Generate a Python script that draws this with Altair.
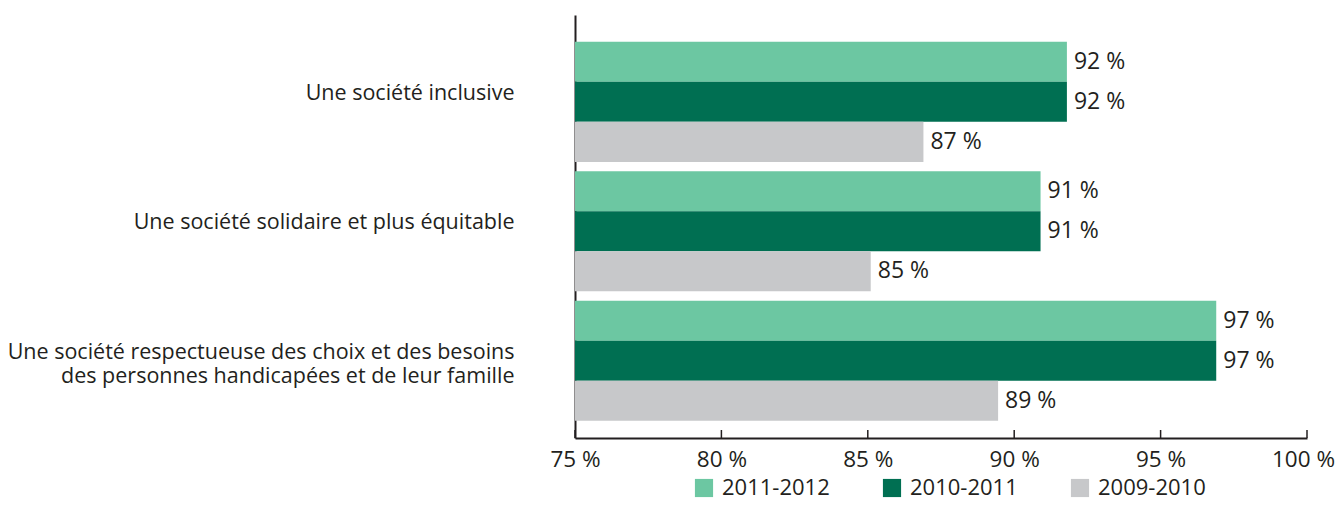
import altair as alt
import pandas as pd

categories = [
    "Une société inclusive",
    "Une société solidaire et plus équitable",
    "Une société respectueuse des choix et des besoins|des personnes handicapées et de leur famille",
]
series = ["2011-2012", "2010-2011", "2009-2010"]
v_2011_2012 = [91.8, 90.9, 96.9]
v_2010_2011 = [91.8, 90.9, 96.9]
v_2009_2010 = [86.9, 85.1, 89.45]
lab_2011_2012 = ["92 %", "91 %", "97 %"]
lab_2010_2011 = ["92 %", "91 %", "97 %"]
lab_2009_2010 = ["87 %", "85 %", "89 %"]
x_ticks = [75, 80, 85, 90, 95, 100]
colors = ["#6cc7a2", "#006f52", "#c7c8ca"]

rows = []
for s, vals, labs in zip(
    series,
    [v_2011_2012, v_2010_2011, v_2009_2010],
    [lab_2011_2012, lab_2010_2011, lab_2009_2010],
):
    for c, v, l in zip(categories, vals, labs):
        rows.append({"cat": c, "series": s, "value": v, "lab": l})
df = pd.DataFrame(rows)
ticks_df = pd.DataFrame({"tick": x_ticks})

FONT = "Open Sans"
TXT = "#231f20"
W, H = 732, 423

y_enc = alt.Y(
    "cat:N",
    sort=categories,
    scale=alt.Scale(paddingInner=0.073, paddingOuter=0.17, align=0.61),
    axis=alt.Axis(
        title=None,
        ticks=False,
        labelExpr="split(datum.label, '|')",
        labelPadding=61,
        labelOffset=-8,
        labelFontSize=21.5,
        labelLineHeight=24,
        labelLimit=700,
        labelFont=FONT,
        labelColor=TXT,
        domainColor=TXT,
        domainWidth=2,
    ),
)
yoff = alt.YOffset("series:N", sort=series, scale=alt.Scale(paddingInner=0, paddingOuter=0))
x_scale = alt.Scale(domain=[75, 100], nice=False, zero=False)

bars = alt.Chart(df).mark_bar().encode(
    y=y_enc,
    yOffset=yoff,
    x=alt.X(
        "value:Q",
        scale=x_scale,
        axis=alt.Axis(
            values=x_ticks,
            labelExpr="datum.value + ' %'",
            labelFlush=False,
            labelOffset=alt.ExprRef("datum.value == 100 ? -4 : 0"),
            ticks=False,
            grid=False,
            title=None,
            labelFontSize=22.5,
            labelPadding=10,
            labelFont=FONT,
            labelColor=TXT,
            domainColor=TXT,
            domainWidth=2,
        ),
    ),
    x2=alt.datum(75),
    color=alt.Color(
        "series:N",
        sort=series,
        scale=alt.Scale(domain=series, range=colors),
        legend=alt.Legend(
            title=None,
            orient="none",
            direction="horizontal",
            legendX=118,
            legendY=462,
            symbolType="square",
            symbolSize=330,
            symbolStrokeWidth=0,
            labelFontSize=22,
            labelFont=FONT,
            labelColor=TXT,
            labelOffset=7,
            columnPadding=51,
        ),
    ),
)

labels = alt.Chart(df).mark_text(
    align="left", baseline="middle", dx=7, fontSize=23, font=FONT, color=TXT
).encode(
    y=alt.Y("cat:N", sort=categories),
    yOffset=yoff,
    x=alt.X("value:Q", scale=x_scale),
    text="lab:N",
)

tick_marks = alt.Chart(ticks_df).mark_rule(color=TXT, strokeWidth=1.5).encode(
    x=alt.X("tick:Q", scale=x_scale),
    y=alt.value(H - 8),
    y2=alt.value(H),
)

chart = (
    alt.layer(bars, labels, tick_marks)
    .properties(
        width=W,
        height=H,
        padding={"left": 567, "top": 7, "right": 28, "bottom": 62},
        autosize=alt.AutoSizeParams(type="none"),
    )
    .configure(font=FONT)
    .configure_view(strokeWidth=0, stroke="transparent")
)

chart.save("out.html", embed_options={"renderer": "svg", "actions": False})
